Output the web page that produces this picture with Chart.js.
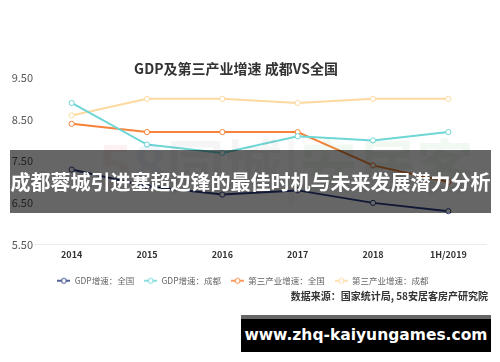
<!DOCTYPE html>
<html>
<head>
<meta charset="utf-8">
<script src="https://cdn.jsdelivr.net/npm/chart.js@4"></script>
<style>
  html,body{margin:0;padding:0;background:#fff;}
  body{width:500px;height:362px;position:relative;overflow:hidden;font-family:"Noto Sans CJK SC","Noto Sans",sans-serif;}
  #wrap{position:absolute;left:0;top:0;width:500px;height:362px;}
  #title{position:absolute;left:0;width:472px;top:58px;text-align:center;font-size:14px;font-weight:bold;color:#333;line-height:20px;}
  #source{position:absolute;right:12px;top:288px;font-size:10px;font-weight:bold;color:#333;line-height:16px;}
  #wm{position:absolute;left:98px;top:128px;font-size:58px;font-weight:bold;line-height:70px;opacity:0.07;white-space:nowrap;}
  #banner{position:absolute;left:10px;top:150px;width:481px;height:63px;background:rgba(0,0,0,0.6);color:#fff;font-size:20px;font-weight:bold;line-height:63px;text-align:center;white-space:nowrap;}
  #site{position:absolute;left:241px;top:315px;width:250px;height:37px;background:#000;border-top:4px solid #666;box-sizing:border-box;color:#fff;font-family:"DejaVu Sans",sans-serif;font-weight:bold;font-size:15.5px;line-height:33px;text-align:center;}
</style>
</head>
<body>
<div id="wrap"><canvas id="c" width="500" height="362"></canvas></div>
<div id="title">GDP及第三产业增速 成都VS全国</div>
<div id="source">数据来源：国家统计局, 58安居客房产研究院</div>
<div id="wm"><span style="color:#e0473f">5</span><span style="color:#3d7fd6">8</span><span style="color:#777">同城</span><span style="color:#999">|</span><span style="color:#4caa4c">安居客</span></div>
<div id="banner">成都蓉城引进塞超边锋的最佳时机与未来发展潜力分析</div>
<div id="site">www.zhq-kaiyungames.com</div>
<script>
const categories = ["2014", "2015", "2016", "2017", "2018", "1H/2019"];
const gdpNational = [7.3, 6.9, 6.7, 6.8, 6.5, 6.3];
const gdpChengdu = [8.9, 7.9, 7.7, 8.1, 8.0, 8.2];
const tertiaryNational = [8.4, 8.2, 8.2, 8.2, 7.4, 7.0];
const tertiaryChengdu = [8.6, 9.0, 9.0, 8.9, 9.0, 9.0];
const seriesNames = ["GDP增速：全国", "GDP增速：成都", "第三产业增速：全国", "第三产业增速：成都"];
const seriesColors = ["#2b3d86", "#6fd6d6", "#f7823a", "#fdd9a0"];
const yTicks = [5.5, 6.5, 7.5, 8.5, 9.5];

function legendMarker(color) {
  const cv = document.createElement('canvas');
  cv.width = 13; cv.height = 8;
  const g = cv.getContext('2d');
  g.strokeStyle = color; g.lineWidth = 1.6;
  g.beginPath(); g.moveTo(0, 4); g.lineTo(13, 4); g.stroke();
  g.fillStyle = '#fff'; g.lineWidth = 1;
  g.beginPath(); g.arc(6.5, 4, 2.5, 0, Math.PI * 2); g.fill(); g.stroke();
  return cv;
}
const markers = seriesColors.map(legendMarker);

const allSeries = [gdpNational, gdpChengdu, tertiaryNational, tertiaryChengdu];
const datasets = allSeries.map((d, i) => ({
  label: seriesNames[i],
  data: d,
  borderColor: seriesColors[i],
  backgroundColor: seriesColors[i],
  borderWidth: 2,
  pointRadius: 2.6,
  pointBorderWidth: 1,
  pointBackgroundColor: '#fff',
  pointBorderColor: seriesColors[i],
  tension: 0,
  fill: false
}));

const FONT = '"Noto Sans CJK SC","Noto Sans",sans-serif';

new Chart(document.getElementById('c'), {
  type: 'line',
  data: { labels: categories, datasets: datasets },
  options: {
    responsive: false,
    animation: false,
    devicePixelRatio: 1,
    layout: { padding: { top: 78, right: 14, left: 0, bottom: 67 } },
    plugins: {
      title: { display: false },
      tooltip: { enabled: false },
      legend: {
        display: true,
        position: 'bottom',
        labels: {
          usePointStyle: true,
          pointStyleWidth: 13,
          boxHeight: 8,
          padding: 10,
          color: '#666',
          font: { family: FONT, size: 8.5 },
          generateLabels: function(chart) {
            const items = Chart.defaults.plugins.legend.labels.generateLabels(chart);
            items.forEach((it, i) => { it.pointStyle = markers[i]; });
            return items;
          }
        }
      }
    },
    scales: {
      x: {
        offset: true,
        grid: { display: false, drawTicks: false, offset: true },
        border: { display: true, color: '#ececec', width: 1 },
        ticks: { color: '#333', padding: 5, font: { family: FONT, size: 9, weight: 'bold' } },
        afterFit: function(s) { s.height = 22; }
      },
      y: {
        min: 5.5,
        max: 9.5,
        afterBuildTicks: function(s) { s.ticks = yTicks.map(v => ({ value: v })); },
        grid: { display: false, drawTicks: false },
        border: { display: false },
        ticks: {
          color: '#555',
          padding: 1,
          font: { family: FONT, size: 11 },
          callback: function(v) { return Number(v).toFixed(2); }
        },
        afterFit: function(s) { s.width = 34; }
      }
    }
  }
});
</script>
</body>
</html>
